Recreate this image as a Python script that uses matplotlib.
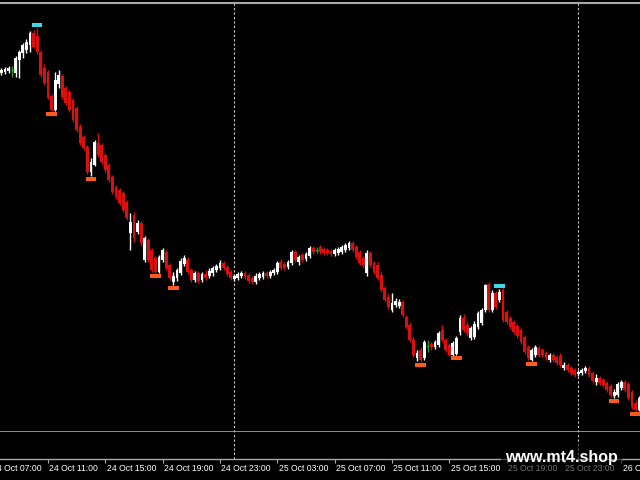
import matplotlib
matplotlib.use("Agg")
import numpy as np
import pandas as pd
import matplotlib.pyplot as plt
from matplotlib.patches import Rectangle

plt.rcParams['font.family'] = ['Liberation Sans', 'DejaVu Sans']

# M15 bars, first bar 24 Oct 07:45
start = "2023-10-24 07:45"

opens = [1.1727, 1.1728, 1.1729, 1.1730, 1.1727, 1.1740, 1.1747, 1.1750, 1.1755, 1.1767,
         1.1764, 1.1748, 1.1732, 1.1728, 1.1704, 1.1690, 1.1716, 1.1724, 1.1712, 1.1708,
         1.1700, 1.1692, 1.1673, 1.1663, 1.1653, 1.1628, 1.1635, 1.1657, 1.1655, 1.1645,
         1.1635, 1.1623, 1.1613, 1.1610, 1.1607, 1.1598, 1.1567, 1.1585, 1.1568, 1.1577,
         1.1540, 1.1560, 1.1550, 1.1542, 1.1528, 1.1540, 1.1548, 1.1535, 1.1518, 1.1522,
         1.1527, 1.1536, 1.1540, 1.1530, 1.1520, 1.1527, 1.1520, 1.1526, 1.1524, 1.1527,
         1.1530, 1.1532, 1.1537, 1.1533, 1.1528, 1.1521, 1.1522, 1.1524, 1.1527, 1.1525,
         1.1522, 1.1518, 1.1522, 1.1523, 1.1527, 1.1524, 1.1527, 1.1528, 1.1538, 1.1536,
         1.1533, 1.1537, 1.1548, 1.1538, 1.1545, 1.1541, 1.1544, 1.1552, 1.1550, 1.1553,
         1.1551, 1.1550, 1.1549, 1.1546, 1.1547, 1.1548, 1.1550, 1.1552, 1.1557, 1.1553,
         1.1548, 1.1542, 1.1527, 1.1547, 1.1537, 1.1535, 1.1525, 1.1512, 1.1503, 1.1490,
         1.1495, 1.1494, 1.1498, 1.1483, 1.1475, 1.1460, 1.1442, 1.1450, 1.1442, 1.1454,
         1.1456, 1.1453, 1.1455, 1.1470, 1.1460, 1.1455, 1.1445, 1.1446, 1.1468, 1.1482,
         1.1475, 1.1462, 1.1463, 1.1473, 1.1477, 1.1490, 1.1516, 1.1490, 1.1507, 1.1500,
         1.1510, 1.1488, 1.1482, 1.1478, 1.1474, 1.1470, 1.1463, 1.1453, 1.1440, 1.1445,
         1.1452, 1.1450, 1.1447, 1.1440, 1.1445, 1.1443, 1.1444, 1.1432, 1.1435, 1.1432,
         1.1430, 1.1426, 1.1427, 1.1429, 1.1432, 1.1427, 1.1418, 1.1422, 1.1420, 1.1417,
         1.1414, 1.1404, 1.1405, 1.1412, 1.1418, 1.1416, 1.1408, 1.1397, 1.1390]

highs = [1.1732, 1.1733, 1.1734, 1.1734, 1.1744, 1.1750, 1.1757, 1.1761, 1.1769, 1.1770,
         1.1772, 1.1750, 1.1736, 1.1730, 1.1706, 1.1728, 1.1730, 1.1726, 1.1714, 1.1710,
         1.1702, 1.1694, 1.1676, 1.1665, 1.1655, 1.1642, 1.1660, 1.1667, 1.1657, 1.1647,
         1.1637, 1.1625, 1.1615, 1.1612, 1.1609, 1.1600, 1.1587, 1.1588, 1.1580, 1.1579,
         1.1564, 1.1562, 1.1552, 1.1544, 1.1545, 1.1552, 1.1550, 1.1537, 1.1528, 1.1532,
         1.1542, 1.1545, 1.1543, 1.1532, 1.1529, 1.1529, 1.1528, 1.1530, 1.1532, 1.1534,
         1.1536, 1.1540, 1.1539, 1.1535, 1.1530, 1.1526, 1.1528, 1.1529, 1.1529, 1.1527,
         1.1524, 1.1527, 1.1528, 1.1529, 1.1529, 1.1530, 1.1532, 1.1539, 1.1541, 1.1538,
         1.1540, 1.1550, 1.1550, 1.1545, 1.1547, 1.1548, 1.1554, 1.1554, 1.1553, 1.1555,
         1.1553, 1.1552, 1.1551, 1.1552, 1.1553, 1.1555, 1.1557, 1.1559, 1.1559, 1.1555,
         1.1550, 1.1544, 1.1550, 1.1549, 1.1539, 1.1538, 1.1528, 1.1514, 1.1506, 1.1507,
         1.1502, 1.1501, 1.1500, 1.1485, 1.1478, 1.1463, 1.1450, 1.1453, 1.1460, 1.1460,
         1.1458, 1.1460, 1.1469, 1.1475, 1.1462, 1.1457, 1.1459, 1.1464, 1.1485, 1.1486,
         1.1478, 1.1474, 1.1479, 1.1489, 1.1492, 1.1516, 1.1518, 1.1510, 1.1509, 1.1511,
         1.1512, 1.1490, 1.1484, 1.1480, 1.1476, 1.1472, 1.1465, 1.1455, 1.1452, 1.1455,
         1.1454, 1.1452, 1.1449, 1.1447, 1.1447, 1.1445, 1.1447, 1.1438, 1.1437, 1.1434,
         1.1432, 1.1430, 1.1432, 1.1434, 1.1434, 1.1429, 1.1426, 1.1424, 1.1422, 1.1419,
         1.1416, 1.1411, 1.1418, 1.1420, 1.1420, 1.1418, 1.1410, 1.1400, 1.1404]

lows = [1.1725, 1.1726, 1.1727, 1.1723, 1.1723, 1.1722, 1.1742, 1.1747, 1.1748, 1.1752,
        1.1746, 1.1723, 1.1715, 1.1701, 1.1689, 1.1689, 1.1712, 1.1701, 1.1695, 1.1688,
        1.1678, 1.1668, 1.1655, 1.1650, 1.1626, 1.1624, 1.1634, 1.1643, 1.1636, 1.1628,
        1.1618, 1.1606, 1.1601, 1.1595, 1.1588, 1.1580, 1.1550, 1.1558, 1.1566, 1.1554,
        1.1538, 1.1538, 1.1528, 1.1527, 1.1527, 1.1538, 1.1530, 1.1520, 1.1515, 1.1519,
        1.1525, 1.1534, 1.1526, 1.1518, 1.1518, 1.1517, 1.1518, 1.1520, 1.1522, 1.1524,
        1.1528, 1.1530, 1.1530, 1.1524, 1.1520, 1.1519, 1.1520, 1.1522, 1.1521, 1.1517,
        1.1516, 1.1516, 1.1520, 1.1521, 1.1522, 1.1522, 1.1525, 1.1526, 1.1530, 1.1530,
        1.1531, 1.1535, 1.1538, 1.1535, 1.1538, 1.1539, 1.1542, 1.1546, 1.1547, 1.1546,
        1.1545, 1.1545, 1.1544, 1.1544, 1.1545, 1.1546, 1.1548, 1.1550, 1.1548, 1.1541,
        1.1535, 1.1532, 1.1524, 1.1533, 1.1526, 1.1520, 1.1508, 1.1498, 1.1491, 1.1488,
        1.1493, 1.1492, 1.1483, 1.1471, 1.1458, 1.1443, 1.1439, 1.1438, 1.1440, 1.1448,
        1.1450, 1.1451, 1.1453, 1.1458, 1.1448, 1.1444, 1.1444, 1.1445, 1.1465, 1.1468,
        1.1464, 1.1460, 1.1461, 1.1471, 1.1475, 1.1488, 1.1488, 1.1488, 1.1491, 1.1498,
        1.1478, 1.1476, 1.1471, 1.1466, 1.1462, 1.1456, 1.1446, 1.1440, 1.1439, 1.1443,
        1.1443, 1.1443, 1.1440, 1.1438, 1.1438, 1.1435, 1.1433, 1.1430, 1.1428, 1.1425,
        1.1423, 1.1424, 1.1425, 1.1427, 1.1423, 1.1417, 1.1415, 1.1415, 1.1413, 1.1408,
        1.1403, 1.1402, 1.1403, 1.1410, 1.1408, 1.1400, 1.1391, 1.1389, 1.1389]

closes = [1.1730, 1.1731, 1.1732, 1.1730, 1.1742, 1.1748, 1.1755, 1.1758, 1.1767, 1.1753,
          1.1748, 1.1725, 1.1717, 1.1702, 1.1690, 1.1720, 1.1725, 1.1703, 1.1697, 1.1690,
          1.1680, 1.1670, 1.1657, 1.1652, 1.1628, 1.1638, 1.1658, 1.1645, 1.1638, 1.1630,
          1.1620, 1.1608, 1.1603, 1.1597, 1.1590, 1.1582, 1.1578, 1.1562, 1.1577, 1.1557,
          1.1562, 1.1540, 1.1530, 1.1528, 1.1543, 1.1550, 1.1532, 1.1522, 1.1524, 1.1530,
          1.1539, 1.1542, 1.1528, 1.1520, 1.1527, 1.1519, 1.1526, 1.1522, 1.1529, 1.1532,
          1.1534, 1.1537, 1.1532, 1.1526, 1.1522, 1.1524, 1.1526, 1.1527, 1.1523, 1.1519,
          1.1518, 1.1524, 1.1526, 1.1527, 1.1524, 1.1528, 1.1530, 1.1537, 1.1532, 1.1532,
          1.1538, 1.1548, 1.1540, 1.1543, 1.1540, 1.1546, 1.1552, 1.1548, 1.1550, 1.1548,
          1.1547, 1.1547, 1.1546, 1.1550, 1.1551, 1.1553, 1.1555, 1.1557, 1.1550, 1.1543,
          1.1537, 1.1535, 1.1547, 1.1535, 1.1528, 1.1522, 1.1510, 1.1500, 1.1493, 1.1497,
          1.1499, 1.1498, 1.1485, 1.1473, 1.1460, 1.1445, 1.1447, 1.1440, 1.1458, 1.1454,
          1.1453, 1.1458, 1.1467, 1.1460, 1.1450, 1.1445, 1.1457, 1.1462, 1.1482, 1.1470,
          1.1467, 1.1472, 1.1476, 1.1487, 1.1490, 1.1515, 1.1490, 1.1507, 1.1493, 1.1508,
          1.1480, 1.1478, 1.1473, 1.1468, 1.1464, 1.1458, 1.1448, 1.1442, 1.1450, 1.1453,
          1.1445, 1.1445, 1.1442, 1.1445, 1.1440, 1.1437, 1.1435, 1.1435, 1.1430, 1.1427,
          1.1425, 1.1428, 1.1430, 1.1432, 1.1425, 1.1419, 1.1422, 1.1417, 1.1415, 1.1410,
          1.1405, 1.1408, 1.1416, 1.1418, 1.1410, 1.1402, 1.1393, 1.1390, 1.1402]

# zigzag / fractal markers (bar numbers)
swing_highs = [10, 139]
swing_lows = [14, 25, 43, 48, 117, 127, 148, 171, 177]

o = np.array(opens)
h = np.array(highs)
l = np.array(lows)
c = np.array(closes)
n = len(o)
x = np.arange(n)
times = pd.date_range(start, periods=n, freq="15min")

bull = c > o
bear = c < o
doji = c == o

col_up = '#ffffff'
col_dn = '#e00d0d'
col_doji = '#22a022'
grey = '#a8a8a8'

fig = plt.figure(figsize=(6.4, 4.8), dpi=100, facecolor='black')
ax = fig.add_axes([0, 48 / 480, 1, 429 / 480], facecolor='black')
ax2 = fig.add_axes([0, 21 / 480, 1, 27 / 480], facecolor='black')

# candles
for m, col in [(bull, col_up), (bear, col_dn), (doji, col_doji)]:
    ax.vlines(x[m], l[m], h[m], color=col, lw=1.0, zorder=2)
body_lo = np.minimum(o, c)
body_h = np.maximum(np.abs(c - o), 0.0001)
ax.bar(x[bull], body_h[bull], bottom=body_lo[bull], width=0.8, color=col_up, lw=0, zorder=3)
ax.bar(x[bear], body_h[bear], bottom=body_lo[bear], width=0.8, color=col_dn, lw=0, zorder=3)
ax.hlines(o[doji], x[doji] - 0.4, x[doji] + 0.4, color=col_doji, lw=1.0, zorder=3)

# markers
ax.bar(swing_highs, 0.0004, bottom=h[swing_highs] + 0.0001, width=2.9,
       color='#3fd8e6', lw=0, zorder=4)
ax.bar(swing_lows, 0.0004, bottom=l[swing_lows] - 0.0005, width=2.9,
       color='#ff5a1e', lw=0, zorder=4)

xlim = (-0.39, 178.23)
ax.set_xlim(*xlim)
ax.set_ylim(1.1368, 1.1797)
ax.set_xticks([])
ax.set_yticks([])
for s in ['left', 'right']:
    ax.spines[s].set_visible(False)
ax.spines['top'].set_color(grey)
ax.spines['top'].set_linewidth(1.5)
ax.spines['bottom'].set_color(grey)
ax.spines['bottom'].set_linewidth(1.2)

# day separators
midnights = x[(times.hour == 0) & (times.minute == 0)]
for d in midnights:
    ax.axvline(d, color='#d0d0d0', lw=0.8, ls=(0, (2, 2)), zorder=1)
    ax2.axvline(d, color='#d0d0d0', lw=0.8, ls=(0, (2, 2)))

# time axis
tick_times = pd.date_range("2023-10-24 07:00", periods=12, freq="4h")
tick_pos = np.asarray((tick_times - times[0]) / pd.Timedelta("15min"))
ax2.set_xticks(tick_pos)
ax2.set_xticklabels([])
ax2.set_xlim(*xlim)
ax2.set_ylim(0, 1)
ax2.set_yticks([])
ax2.tick_params(axis='x', direction='out', length=3, width=0.8, color=grey)
for p, t in zip(tick_pos, tick_times):
    ax2.annotate(t.strftime("%d %b %H:%M"), xy=(p, 0), xycoords=('data', 'axes fraction'),
                 xytext=(1.5, -5), textcoords='offset pixels', ha='left', va='top',
                 color='white', fontsize=6.2, annotation_clip=False)
for s in ['left', 'right', 'top']:
    ax2.spines[s].set_visible(False)
ax2.spines['bottom'].set_color(grey)
ax2.spines['bottom'].set_linewidth(1.0)

# watermark
fig.patches.append(Rectangle((501 / 640, 0), 121 / 640, 37 / 480, transform=fig.transFigure,
                             facecolor='black', alpha=0.55, lw=0, zorder=5))
fig.text(505 / 640, 1 - 462 / 480, "www.mt4.shop", color='white', fontsize=11.5,
         fontweight='bold', va='baseline', ha='left', zorder=6)

fig.savefig("out.png", dpi=100, facecolor='black')
